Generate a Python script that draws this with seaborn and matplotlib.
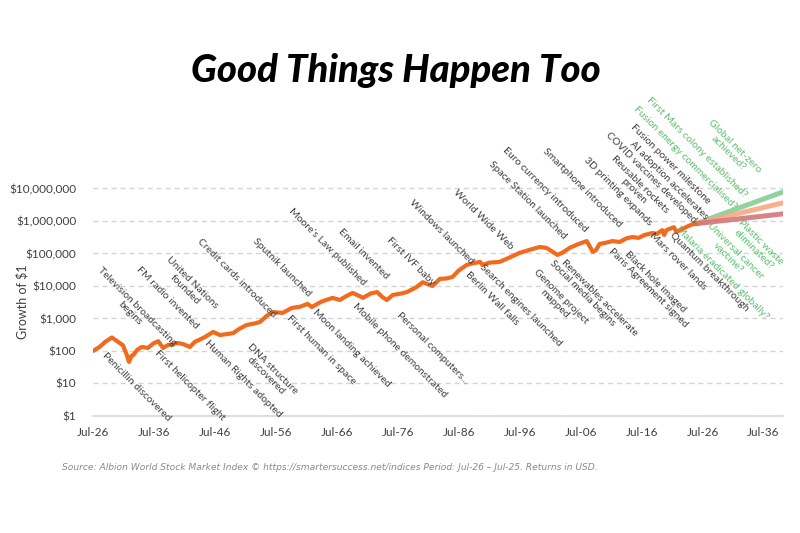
import matplotlib
matplotlib.use("Agg")
import matplotlib.pyplot as plt
import numpy as np
import pandas as pd
import seaborn as sns

# Growth of $1 (index starts at $100 in Jul-1926)
years = [
    1926.5, 1927.5, 1928.5, 1929.6, 1930.3, 1931.4, 1932.0, 1932.4, 1932.8, 1933.1,
    1933.8, 1934.5, 1935.5, 1936.4, 1937.2, 1938.0, 1938.8, 1939.6, 1940.3, 1941.2,
    1942.4, 1943.2, 1944.9, 1946.2, 1947.3, 1948.5, 1949.5, 1950.5, 1951.7, 1953.0,
    1953.9, 1955.0, 1956.0, 1957.6, 1959.1, 1960.5, 1961.7, 1962.4, 1964.0, 1965.8,
    1967.0, 1968.0, 1969.1, 1970.3, 1970.8, 1972.0, 1973.1, 1974.0, 1974.7, 1975.7,
    1977.0, 1978.0, 1979.5, 1980.6, 1982.2, 1983.4, 1984.5, 1985.5, 1986.5, 1987.8,
    1988.5, 1990.0, 1990.4, 1991.5, 1993.2, 1994.5, 1996.5, 1998.5, 1999.8, 2000.9,
    2001.8, 2002.7, 2003.5, 2004.7, 2006.0, 2007.5, 2008.5, 2009.0, 2009.6, 2010.5,
    2011.7, 2012.9, 2014.0, 2015.0, 2016.0, 2017.0, 2018.3, 2019.0, 2019.9, 2020.2,
    2020.6, 2021.8, 2022.2, 2022.9, 2023.9, 2024.8, 2025.4,
]
growth = [
    100, 130, 190, 260, 210, 150, 80, 46, 70, 75,
    110, 133, 124, 170, 200, 124, 153, 160, 176, 165,
    133, 190, 270, 385, 310, 330, 355, 480, 630, 700,
    780, 1200, 1580, 1480, 2100, 2300, 2800, 2250, 3300, 4300,
    3700, 4800, 6100, 4800, 4300, 5800, 6500, 4500, 3700, 5300,
    5800, 6500, 9000, 13000, 10000, 16500, 17000, 19000, 30000, 44000,
    48000, 55000, 44000, 52000, 55000, 70000, 104000, 135000, 158000, 148000,
    115000, 90000, 105000, 148000, 190000, 240000, 112000, 125000, 195000, 210000,
    240000, 225000, 290000, 320000, 300000, 370000, 425000, 400000, 520000, 370000,
    525000, 640000, 460000, 530000, 660000, 780000, 820000,
]

# Speculative fan to the right edge
proj_names = ["High", "Mid", "Low"]
proj_end_year = 2039.7
proj_end_value = [7.8e6, 3.6e6, 1.65e6]

# Milestones (text, year, value of label centre)
events_above = [
    ("Television broadcasting\nbegins", 1933.1, 1820),
    ("FM radio invented", 1938.7, 4150),
    ("United Nations\nfounded", 1942.2, 10000),
    ("Credit cards introduced", 1950.1, 17700),
    ("Sputnik launched", 1957.5, 35700),
    ("Moore's Law published", 1964.9, 158000),
    ("Email invented", 1970.8, 96000),
    ("First IVF baby", 1978.6, 55000),
    ("Windows launched", 1983.7, 457000),
    ("World Wide Web", 1990.6, 1.07e6),
    ("Space Station launched", 1997.8, 4.45e6),
    ("Euro currency introduced", 2000.6, 8.9e6),
    ("Smartphone introduced", 2006.7, 1.04e7),
    ("3D printing expands", 2012.6, 7.8e6),
    ("Reusable rockets\nproven", 2015.7, 1.04e7),
    ("COVID vaccines developed", 2018.1, 2.1e7),
    ("AI adoption accelerates", 2020.9, 1.7e7),
    ("Fusion power milestone", 2021.3, 5.7e7),
]
events_below = [
    ("Penicillin discovered", 1933.7, 7.8),
    ("First helicopter flight", 1942.4, 8.4),
    ("Human Rights adopted", 1951.1, 13.8),
    ("DNA structure\ndiscovered", 1955.4, 22.6),
    ("First human in space", 1964.0, 107),
    ("Moon landing achieved", 1969.0, 123),
    ("Mobile phone demonstrated", 1976.8, 107),
    ("Personal computers...", 1982.2, 123),
    ("Berlin Wall falls", 1991.9, 4000),
    ("Search engines launched", 1996.7, 2600),
    ("Genome project\nmapped", 2002.7, 3700),
    ("Social media begins", 2006.8, 6100),
    ("Renewables accelerate", 2009.6, 4300),
    ("Paris Agreement signed", 2017.6, 8700),
    ("Black hole imaged", 2018.8, 13300),
    ("Mars rover lands", 2022.4, 58500),
    ("Quantum breakthrough", 2027.6, 27000),
]
hopes = [
    ("Fusion energy commercialised?", 2023.7, 8.7e7),
    ("First Mars colony established?", 2025.5, 1.77e8),
    ("Global net-zero\nachieved?", 2031.3, 1.52e8),
    ("Malaria eradicated globally?", 2029.8, 25000),
    ("Universal cancer\nvaccine?", 2031.3, 96000),
    ("Plastic waste\neliminated?", 2035.4, 170000),
]

tick_years = [1926.5 + 10 * i for i in range(12)]
tick_year_labels = ["Jul-26", "Jul-36", "Jul-46", "Jul-56", "Jul-66", "Jul-76",
                    "Jul-86", "Jul-96", "Jul-06", "Jul-16", "Jul-26", "Jul-36"]
tick_values = [1, 10, 100, 1e3, 1e4, 1e5, 1e6, 1e7]
tick_value_labels = ["$1", "$10", "$100", "$1,000", "$10,000", "$100,000",
                     "$1,000,000", "$10,000,000"]

ORANGE = "#F26A1E"
TEXT = "#404040"
GREEN = "#5CBF6E"
proj_colors = {"High": "#84CF95", "Mid": "#F9A882", "Low": "#D5757A"}

sns.set_style("white")
plt.rcParams["font.family"] = ["Lato", "DejaVu Sans"]

df = pd.DataFrame({"year": years, "growth": growth})
proj = pd.DataFrame({
    "year": [years[-1]] * 3 + [proj_end_year] * 3,
    "growth": [growth[-1]] * 3 + proj_end_value,
    "scenario": proj_names * 2,
})

fig = plt.figure(figsize=(8, 5.33), dpi=100)
ax = fig.add_axes([93 / 800, 1 - 416 / 533, 690 / 800, 238 / 533])

sns.lineplot(data=proj, x="year", y="growth", hue="scenario", palette=proj_colors,
             linewidth=3.6, alpha=0.9, legend=False, ax=ax)
sns.lineplot(data=df, x="year", y="growth", color=ORANGE, linewidth=3.0, ax=ax)

ax.set_yscale("log")
ax.set_ylim(1, 10 ** 7.32)
ax.set_xlim(1926.5, 2039.7)
ax.set_yticks(tick_values)
ax.set_yticklabels(tick_value_labels)
ax.set_xticks(tick_years)
ax.set_xticklabels(tick_year_labels)
ax.minorticks_off()
ax.tick_params(length=0, labelsize=8.5, labelcolor=TEXT)
ax.tick_params(axis="y", pad=12)
ax.tick_params(axis="x", pad=8)
ax.set_xlabel("")
ax.set_ylabel("")
ax.grid(axis="y", color="#d4d4d4", linestyle=(0, (3.6, 2.9)), linewidth=1)
ax.grid(axis="x", visible=False)
for side in ["top", "right", "left"]:
    ax.spines[side].set_visible(False)
ax.spines["bottom"].set_color("#d9d9d9")
ax.spines["bottom"].set_linewidth(1.2)

# Milestone labels, rotated like the original data labels
for text, yr, val in events_above + events_below:
    ax.text(yr, val, text, rotation=-45, ha="center", va="center",
            multialignment="center", fontsize=7.5, color=TEXT, clip_on=False,
            linespacing=1.1)
for text, yr, val in hopes:
    ax.text(yr, val, text, rotation=-45, ha="center", va="center",
            multialignment="center", fontsize=7.5, color=GREEN, clip_on=False,
            linespacing=1.1)

fig.text(22 / 800, 1 - 302 / 533, "Growth of $1", rotation=90, ha="center",
         va="center", fontsize=9, color=TEXT)
fig.text(396 / 800, 1 - 70 / 533, "Good Things Happen Too", ha="center", va="center",
         fontsize=27.5, fontweight="black", fontstyle="italic", color="black")
fig.text(62 / 800, 1 - 467 / 533,
         "Source: Albion World Stock Market Index \u00a9 https://smartersuccess.net/indices "
         "Period: Jul-26 \u2013 Jul-25. Returns in USD.",
         ha="left", va="center", fontsize=6.6, fontstyle="italic", color="#8a8a8a",
         family=["DejaVu Sans"])

fig.savefig("out.png", dpi=100, facecolor="white")
